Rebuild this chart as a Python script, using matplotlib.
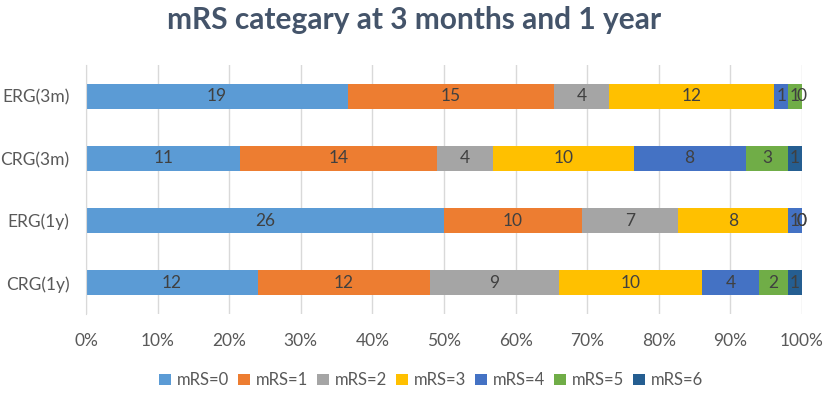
import matplotlib.pyplot as plt
import numpy as np

plt.rcParams["font.family"] = ["Lato", "DejaVu Sans"]

groups = ["CRG(1y)", "ERG(1y)", "CRG(3m)", "ERG(3m)"]
series = ["mRS=0", "mRS=1", "mRS=2", "mRS=3", "mRS=4", "mRS=5", "mRS=6"]
counts = np.array([
    [12, 12, 9, 10, 4, 2, 1],   # CRG(1y)
    [26, 10, 7, 8, 1, 0, 0],    # ERG(1y)
    [11, 14, 4, 10, 8, 3, 1],   # CRG(3m)
    [19, 15, 4, 12, 1, 1, 0],   # ERG(3m)
])
colors = ["#5B9BD5", "#ED7D31", "#A5A5A5", "#FFC000", "#4472C4", "#70AD47", "#255E91"]

share = counts / counts.sum(axis=1, keepdims=True) * 100

fig = plt.figure(figsize=(8.29, 3.94), dpi=100)
ax = fig.add_axes([0.1037, 0.203, 0.8637, 0.632])

y = np.arange(len(groups))
left = np.zeros(len(groups))
for j, name in enumerate(series):
    bars = ax.barh(y, share[:, j], left=left, height=0.4, color=colors[j],
                   label=name, zorder=3)
    ax.bar_label(bars, labels=[str(v) for v in counts[:, j]], label_type="center",
                 color="#404040", fontsize=12.5)
    left += share[:, j]

ax.set_xlim(0, 100)
ax.set_ylim(-0.5, 3.5)
ax.set_xticks(np.arange(0, 101, 10))
ax.set_xticklabels([f"{v}%" for v in range(0, 101, 10)], fontsize=12.5, color="#595959")
ax.set_yticks(y)
ax.set_yticklabels(groups, fontsize=12.5, color="#595959")
ax.tick_params(length=0, pad=12)
ax.tick_params(axis="x", pad=14)
ax.grid(axis="x", color="#D9D9D9", linewidth=1, zorder=0)
for s in ["top", "right", "bottom"]:
    ax.spines[s].set_visible(False)
ax.spines["left"].set_color("#D9D9D9")
ax.spines["left"].set_zorder(4)

fig.suptitle("mRS categary at 3 months and 1 year", y=0.985, fontsize=21.5,
             fontweight="bold", color="#44546A")

handles, labels = ax.get_legend_handles_labels()
fig.legend(handles, labels, loc="center", bbox_to_anchor=(0.52, 0.035), ncol=7,
           frameon=False, fontsize=12, handlelength=0.7, handleheight=0.7,
           handletextpad=0.35, columnspacing=0.55, labelcolor="#595959")

fig.savefig("out.png", dpi=100)
